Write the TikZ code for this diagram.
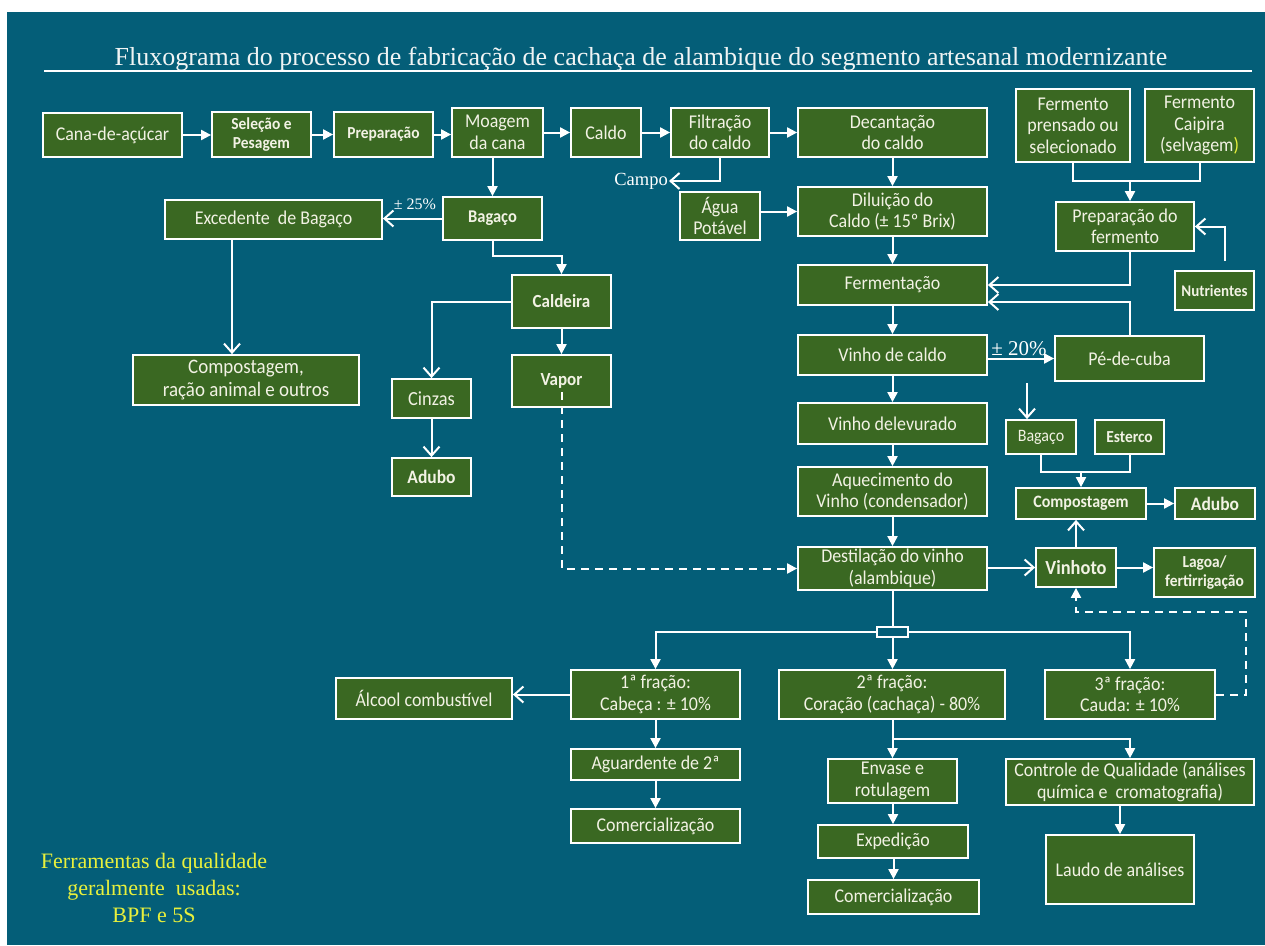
\documentclass[tikz,border=0pt]{standalone}
\usepackage{fontspec}
\setmainfont{Liberation Serif}
\newfontfamily\boxfont[FakeStretch=0.92]{Carlito}
\usetikzlibrary{arrows.meta}

\definecolor{bgteal}{RGB}{4,94,120}
\definecolor{boxgreen}{RGB}{58,104,34}
\definecolor{boxtext}{RGB}{242,242,228}
\definecolor{noteyellow}{RGB}{232,240,60}
\definecolor{titlecol}{RGB}{240,244,244}

\tikzset{
  stage/.style={draw=white, line width=1.8pt, fill=boxgreen, text=boxtext,
    align=center, inner sep=0pt, font=\boxfont\fontsize{19.5}{21.5}\selectfont},
  wh/.style 2 args={minimum width=#1pt, minimum height=#2pt},
  fs/.style 2 args={font=\boxfont\fontsize{#1}{#2}\selectfont},
  bfs/.style 2 args={font=\boxfont\bfseries\fontsize{#1}{#2}\selectfont},
  link/.style={draw=white, line width=2pt},
  flow/.style={link, -{Triangle[length=10pt,width=10pt]}},
  vflow/.style={link, -{Straight Barb[length=9pt,width=16pt]}},
  dashlink/.style={dash pattern=on 8pt off 6pt},
  lbl/.style={text=white, inner sep=1pt},
}

\begin{document}
\begin{tikzpicture}[x=1pt,y=-1pt]
\useasboundingbox (0,0) rectangle (1265,945);
\fill[white] (0,0) rectangle (1265,945);
\fill[bgteal] (7,12) rectangle (1265,945);

% heading
\node[anchor=base, text=titlecol, inner sep=0pt, font=\fontsize{26}{30}\selectfont] (title) at (641,65)
  {Fluxograma do processo de fabricação de cachaça de alambique do segmento artesanal modernizante};
\coordinate (ruleL) at (44,71);
\coordinate (ruleR) at (1252,71);
\draw[link] (ruleL) -- (ruleR);

% first row
\node[stage, wh={139}{44}] (cana) at (112.5,135) {Cana-de-açúcar};
\node[stage, wh={99}{45}, bfs={16.8}{18.5}] (selecao) at (261.5,134.5) {Seleção e\\Pesagem};
\node[stage, wh={99}{45}, bfs={16.8}{18.5}] (preparo) at (383.5,134.5) {Preparação};
\node[stage, wh={91}{49}] (moagem) at (497.5,132.5) {Moagem\\da cana};
\node[stage, wh={70}{49}] (caldo) at (606,132.5) {Caldo};
\node[stage, wh={98}{49}] (filtracao) at (720,132.5) {Filtração\\do caldo};
\node[stage, wh={189}{49}] (decant) at (892.5,132.5) {Decantação\\do caldo};
\node[stage, wh={114}{73}] (fprens) at (1073,125.5) {Fermento\\prensado ou\\selecionado};
\node[stage, wh={109}{73}] (fcaip) at (1199.5,125.5) {Fermento\\Caipira\\(selvagem{\color{noteyellow})}};

% bagasse branch
\node[stage, wh={217}{39}] (excedente) at (273.5,219.5) {Excedente\ \ de Bagaço};
\node[stage, wh={99}{43}, bfs={17.9}{19.5}] (bagaco) at (492.5,218.5) {Bagaço};
\node[stage, wh={99}{53}, bfs={18.5}{20}] (caldeira) at (561.5,301.5) {Caldeira};
\node[stage, wh={226}{50}, fs={20.6}{23}] (compost) at (246,380) {Compostagem,\\ração animal e outros};
\node[stage, wh={79}{39}, fs={20}{22}] (cinzas) at (431.5,398.5) {Cinzas};
\node[stage, wh={99}{52}, bfs={18.5}{20}] (vapor) at (561.5,381) {Vapor};
\node[stage, wh={79}{38}, bfs={19}{21}] (aduboA) at (431.5,477) {Adubo};

% juice and fermentation column
\node[stage, wh={80}{48}] (agua) at (720,216) {Água\\Potável};
\node[stage, wh={189}{49}] (diluicao) at (892.5,211.5) {Diluição do\\Caldo (± 15º Brix)};
\node[stage, wh={138}{49}] (prepferm) at (1125,226.5) {Preparação do\\fermento};
\node[stage, wh={79}{39}, bfs={16.3}{18}] (nutrientes) at (1214.5,290.5) {Nutrientes};
\node[stage, wh={189}{40}] (ferment) at (892.5,285) {Fermentação};
\node[stage, wh={189}{40}] (vcaldo) at (892.5,355) {Vinho de caldo};
\node[stage, wh={149}{45}] (pecuba) at (1129.5,358.5) {Pé-de-cuba};
\node[stage, wh={189}{41}] (vdelev) at (892.5,423.5) {Vinho delevurado};
\node[stage, wh={70}{34}, fs={17.4}{19}] (bagacoB) at (1041,437) {Bagaço};
\node[stage, wh={69}{34}, bfs={16.8}{18.5}] (esterco) at (1129.5,437) {Esterco};
\node[stage, wh={189}{49}] (aquec) at (892.5,491.5) {Aquecimento do\\Vinho (condensador)};
\node[stage, wh={130}{31}, bfs={17.4}{19}] (compostB) at (1081,503.5) {Compostagem};
\node[stage, wh={80}{31}, bfs={19}{21}] (aduboB) at (1215,503.5) {Adubo};
\node[stage, wh={189}{43}] (destil) at (892.5,568.5) {Destilação do vinho\\(alambique)};
\node[stage, wh={80}{39}, bfs={20}{22}] (vinhoto) at (1076,567.5) {Vinhoto};
\node[stage, wh={101}{49}, bfs={16.8}{18.5}] (lagoa) at (1204.5,572.5) {Lagoa/\\fertirrigação};

% distillate fractions
\node[draw=white, line width=1.8pt, fill=bgteal, minimum width=31pt, minimum height=10pt, inner sep=0pt] (split) at (892.5,632) {};
\node[stage, wh={169}{49}] (frac1) at (655.5,694.5) {1ª fração:\\Cabeça : ± 10\%};
\node[stage, wh={226}{49}] (frac2) at (892,694.5) {2ª fração:\\Coração (cachaça) - 80\%};
\node[stage, wh={170}{49}] (frac3) at (1130,694.5) {3ª fração:\\Cauda: ± 10\%};
\node[stage, wh={176}{41}] (alcool) at (424,698.5) {Álcool combustível};
\node[stage, wh={169}{31}] (aguard) at (655.5,764.5) {Aguardente de 2ª};
\node[stage, wh={169}{34}] (comercA) at (655.5,826) {Comercialização};
\node[stage, wh={129}{44}] (envase) at (892.5,781) {Envase e\\rotulagem};
\node[stage, wh={248}{46}] (controle) at (1130,782) {Controle de Qualidade (análises\\química e\ \ cromatografia)};
\node[stage, wh={150}{33}] (exped) at (893,841.5) {Expedição};
\node[stage, wh={171}{34}] (comercB) at (893.5,897) {Comercialização};
\node[stage, wh={148}{69}] (laudo) at (1120,869.5) {Laudo de análises};

% free labels
\node[lbl, font=\fontsize{16}{18}\selectfont] (p25) at (415,204) {± 25\%};
\node[lbl, anchor=east, font=\fontsize{18.5}{20}\selectfont] (campo) at (669,181) {Campo};
\node[lbl, font=\fontsize{21}{24}\selectfont] (p20) at (1019,349) {± 20\%};
\node[anchor=north, align=center, inner sep=0pt, text=noteyellow, font=\fontsize{22}{27}\selectfont] (tools) at (154,853)
  {Ferramentas da qualidade\\geralmente\ \ usadas:\\BPF e 5S};

% connectors: raw material line
\draw[flow] (cana.east) -- (cana.east -| selecao.west);
\draw[flow] (selecao.east) -- (preparo.west);
\draw[flow] (preparo.east) -- (preparo.east -| moagem.west);
\draw[flow] (moagem.east) -- (caldo.west);
\draw[flow] (caldo.east) -- (filtracao.west);
\draw[flow] (filtracao.east) -- (decant.west);
\draw[vflow] (filtracao.south) |- (campo.east);

% bagasse and boiler
\draw[flow] (bagaco.north |- moagem.south) -- (bagaco.north);
\draw[vflow] (bagaco.west) -- (bagaco.west -| excedente.east);
\draw[vflow] (excedente.south -| 232,0) -- (compost.north -| 232,0);
\draw[flow] (bagaco.south) -- ++(0,15) -| (caldeira.north);
\draw[vflow] (caldeira.west) -| (cinzas.north);
\draw[flow] (caldeira.south) -- (vapor.north);
\draw[vflow] (cinzas.south) -- (aduboA.north);
\draw[flow, dashlink] ([yshift=-11pt]vapor.center) |- (destil.west);

% juice, yeast and fermentation
\draw[flow] (decant.south) -- (diluicao.north);
\draw[flow] (agua.east |- diluicao.west) -- (diluicao.west);
\draw[flow] (diluicao.south) -- (ferment.north);
\coordinate (fjoin) at (1130,181);
\draw[link] (fprens.south) |- (fjoin) -| (fcaip.south);
\draw[flow] (fjoin) -- (fjoin |- prepferm.north);
\draw[vflow] ([xshift=10pt,yshift=9pt]nutrientes.north) |- (prepferm.east);
\draw[vflow] (prepferm.south -| fjoin) |- (ferment.east);
\draw[vflow] (pecuba.north -| fjoin) |- ([yshift=-17pt]ferment.east);
\draw[flow] (ferment.south) -- (vcaldo.north);
\draw[flow] (vcaldo.east |- pecuba.west) -- (pecuba.west);
\draw[flow] (vcaldo.south) -- (vdelev.north);
\draw[flow] (vdelev.south) -- (aquec.north);
\draw[flow] (aquec.south) -- (destil.north);

% composting and vinasse
\coordinate (bdrop) at (1027,383);
\draw[vflow] (bdrop) -- (bdrop |- bagacoB.north);
\coordinate (cjoin) at (1081,472);
\draw[link] (bagacoB.south) |- (cjoin) -| (esterco.south);
\draw[flow] (cjoin) -- (cjoin |- compostB.north);
\draw[flow] (compostB.east) -- (aduboB.west);
\draw[vflow] (vinhoto.north) -- (vinhoto.north |- compostB.south);
\draw[vflow] (destil.east |- vinhoto.west) -- (vinhoto.west);
\draw[flow] (vinhoto.east) -- (vinhoto.east -| lagoa.west);
\coordinate (dturn) at (1246,612);
\draw[flow, dashlink] (frac3.east) -| (dturn) -| (vinhoto.south);

% fractions
\draw[link] (destil.south) -- (split.north);
\draw[flow] (split.west) -| (frac1.north);
\draw[flow] (split.east) -| (frac3.north);
\draw[flow] (split.south) -- (split.south |- frac2.north);
\draw[vflow] (frac1.west) -- (frac1.west -| alcool.east);
\draw[flow] (frac1.south) -- (aguard.north);
\draw[flow] (aguard.south) -- (comercA.north);
\draw[flow] (frac2.south -| envase.north) -- (envase.north);
\draw[flow] (frac2.south |- 0,739) -| (controle.north);
\draw[flow] (exped.north |- envase.south) -- (exped.north);
\draw[flow] (comercB.north |- exped.south) -- (comercB.north);
\draw[flow] (laudo.north |- controle.south) -- (laudo.north);
\end{tikzpicture}
\end{document}
